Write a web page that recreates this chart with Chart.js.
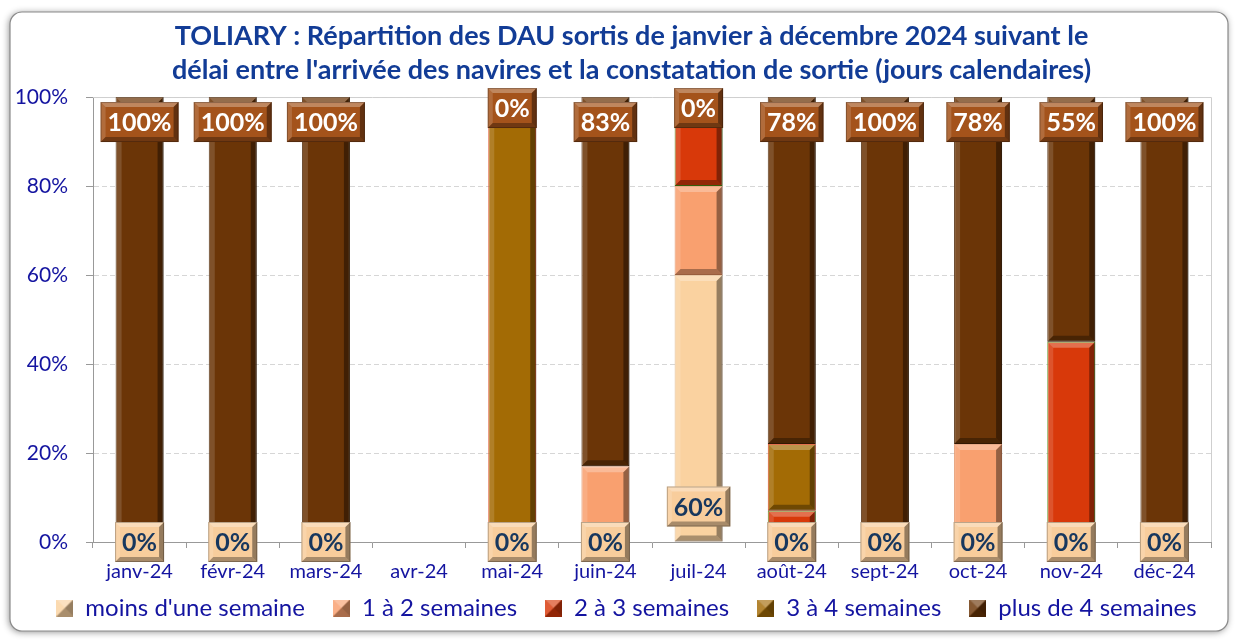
<!DOCTYPE html>
<html>
<head>
<meta charset="utf-8">
<script src="https://cdn.jsdelivr.net/npm/chart.js@4.4.1/dist/chart.umd.min.js"></script>
<style>
  html, body { margin: 0; padding: 0; background: #fff; }
</style>
</head>
<body>
<canvas id="chart" width="1238" height="641"></canvas>
<script>
// categories
const months = ['janv-24', 'févr-24', 'mars-24', 'avr-24', 'mai-24', 'juin-24',
                'juil-24', 'août-24', 'sept-24', 'oct-24', 'nov-24', 'déc-24'];

// series (percent of DAU), avr-24 has no data
const moinsUneSemaine  = [0, 0, 0, null, 0,   0, 60,  0,   0,  0,  0,   0];
const unADeuxSemaines  = [0, 0, 0, null, 0,  17, 20,  0,   0, 22,  0,   0];
const deuxATrois       = [0, 0, 0, null, 0,   0, 20,  7,   0,  0, 45,   0];
const troisAQuatre     = [0, 0, 0, null, 100, 0,  0, 15,   0,  0,  0,   0];
const plusDeQuatre     = [100, 100, 100, null, 0, 83, 0, 78, 100, 78, 55, 100];

const yTicks = [0, 20, 40, 60, 80, 100];

const seriesNames = ["moins d'une semaine", '1 à 2 semaines', '2 à 3 semaines',
                     '3 à 4 semaines', 'plus de 4 semaines'];
const seriesColors = ['#FAD2A0', '#F9A06F', '#D8390A', '#A36B05', '#6B3507'];
const seriesBorders = ['#E0B585', '#E08A5A', '#4F8A10', '#D8390A', '#4A2404'];

const FONT = 'Lato, "Open Sans", sans-serif';

function bevel(ctx, x0, y0, x1, y1, b, light, dark) {
    const w = x1 - x0, h = y1 - y0;
    b = Math.min(b, w / 2, h / 2);
    if (b <= 0) return;
    ctx.save();
    ctx.fillStyle = 'rgba(255,255,255,' + light + ')';
    ctx.beginPath();
    ctx.moveTo(x0, y0); ctx.lineTo(x1, y0); ctx.lineTo(x1 - b, y0 + b); ctx.lineTo(x0 + b, y0 + b);
    ctx.closePath(); ctx.fill();
    ctx.fillStyle = 'rgba(255,255,255,' + (light * 0.5) + ')';
    ctx.beginPath();
    ctx.moveTo(x0, y0); ctx.lineTo(x0 + b, y0 + b); ctx.lineTo(x0 + b, y1 - b); ctx.lineTo(x0, y1);
    ctx.closePath(); ctx.fill();
    ctx.fillStyle = 'rgba(0,0,0,' + dark + ')';
    ctx.beginPath();
    ctx.moveTo(x1, y0); ctx.lineTo(x1 - b, y0 + b); ctx.lineTo(x1 - b, y1 - b); ctx.lineTo(x1, y1);
    ctx.closePath(); ctx.fill();
    ctx.fillStyle = 'rgba(0,0,0,' + (dark * 0.8) + ')';
    ctx.beginPath();
    ctx.moveTo(x0, y1); ctx.lineTo(x0 + b, y1 - b); ctx.lineTo(x1 - b, y1 - b); ctx.lineTo(x1, y1);
    ctx.closePath(); ctx.fill();
    ctx.restore();
}

// small pyramid squares for the legend
function legendSwatch(color) {
    const c = document.createElement('canvas');
    c.width = 17; c.height = 17;
    const g = c.getContext('2d');
    g.fillStyle = color;
    g.fillRect(0, 0, 17, 17);
    bevel(g, 0, 0, 17, 17, 8.5, 0.35, 0.4);
    return c;
}
const swatches = seriesColors.map(legendSwatch);

const framePlugin = {
    id: 'frame',
    afterLayout(chart) {
        // title and legend sit a bit right of the canvas centre in the original
        const t = chart.titleBlock;
        if (t) { t.left += 21; t.right += 21; }
        const l = chart.legend;
        if (l) { l.left += 16; l.right += 16; l.top -= 16; l.bottom -= 16; }
    },
    beforeDraw(chart) {
        const ctx = chart.ctx;
        ctx.save();
        ctx.fillStyle = '#fff';
        ctx.fillRect(0, 0, chart.width, chart.height);
        ctx.shadowColor = 'rgba(0,0,0,0.45)';
        ctx.shadowBlur = 7;
        ctx.shadowOffsetX = -1;
        ctx.shadowOffsetY = 1;
        ctx.beginPath();
        ctx.roundRect(10, 12, 1218, 619, 12);
        ctx.fill();
        ctx.shadowColor = 'transparent';
        ctx.strokeStyle = '#8a8a8a';
        ctx.lineWidth = 1.2;
        ctx.stroke();
        ctx.restore();
    },
    beforeDatasetsDraw(chart) {
        const {ctx, chartArea: a} = chart;
        ctx.save();
        ctx.strokeStyle = '#cfcfcf';
        ctx.lineWidth = 1;
        ctx.beginPath();
        ctx.moveTo(a.left, a.top + 0.5);
        ctx.lineTo(a.right + 0.5, a.top + 0.5);
        ctx.lineTo(a.right + 0.5, a.bottom);
        ctx.stroke();
        ctx.restore();
    }
};

const barLabelPlugin = {
    id: 'barLabels',
    afterDatasetsDraw(chart) {
        const ctx = chart.ctx;
        // bevel on every segment
        chart.data.datasets.forEach((ds, i) => {
            chart.getDatasetMeta(i).data.forEach((el, j) => {
                if (ds.data[j] == null || !ds.data[j]) return;
                const p = el.getProps(['x', 'y', 'base', 'width'], true);
                bevel(ctx, p.x - p.width / 2, p.y, p.x + p.width / 2, p.base, 6, 0.28, 0.4);
            });
        });
        // value boxes: first series at the base, last series at the top
        ctx.save();
        ctx.font = 'bold 25px ' + FONT;
        ctx.textAlign = 'center';
        ctx.textBaseline = 'middle';
        const drawBox = (cx, cy, text, fill, color) => {
            const w = Math.max(ctx.measureText(text).width + 14, 48), h = 40;
            const x0 = cx - w / 2, y0 = cy - h / 2;
            ctx.fillStyle = fill;
            ctx.fillRect(x0, y0, w, h);
            bevel(ctx, x0, y0, x0 + w, y0 + h, 5, 0.3, 0.4);
            ctx.strokeStyle = 'rgba(0,0,0,0.25)';
            ctx.lineWidth = 1;
            ctx.strokeRect(x0 + 0.5, y0 + 0.5, w - 1, h - 1);
            ctx.fillStyle = color;
            ctx.fillText(text, cx, cy + 1);
        };
        const last = chart.data.datasets.length - 1;
        chart.getDatasetMeta(last).data.forEach((el, j) => {
            const v = plusDeQuatre[j];
            if (v == null) return;
            const p = el.getProps(['x', 'y', 'base'], true);
            const cy = (p.base - p.y) > 40 ? p.y + 25 : p.y + 11;
            drawBox(p.x, cy, v + '%', '#A4531B', '#ffffff');
        });
        chart.getDatasetMeta(0).data.forEach((el, j) => {
            const v = moinsUneSemaine[j];
            if (v == null) return;
            const p = el.getProps(['x', 'y', 'base'], true);
            const cy = (p.base - p.y) > 40 ? p.base - 35 : p.base;
            drawBox(p.x, cy, v + '%', '#F8CD9C', '#17375E');
        });
        ctx.restore();
    }
};

const seriesData = [moinsUneSemaine, unADeuxSemaines, deuxATrois, troisAQuatre, plusDeQuatre];

new Chart(document.getElementById('chart'), {
    type: 'bar',
    data: {
        labels: months,
        datasets: seriesData.map((d, i) => ({
            label: seriesNames[i],
            data: d,
            backgroundColor: seriesColors[i],
            borderColor: seriesBorders[i],
            borderWidth: c => (c.raw ? 1 : 0),
            borderSkipped: false,
            categoryPercentage: 1,
            barPercentage: 0.515
        }))
    },
    options: {
        responsive: false,
        animation: false,
        layout: { padding: { top: 8, left: 10, right: 27, bottom: -5 } },
        scales: {
            x: {
                stacked: true,
                offset: true,
                afterFit: s => { s.height = 42; },
                grid: { display: true, drawOnChartArea: false, offset: true, tickLength: 6, tickColor: '#999' },
                border: { color: '#999' },
                ticks: { color: '#1414A0', font: { family: FONT, size: 20 }, padding: 12 }
            },
            y: {
                stacked: true,
                min: 0,
                max: 100,
                afterFit: s => { s.width = 83; },
                afterBuildTicks: s => { s.ticks = yTicks.map(v => ({ value: v })); },
                grid: { color: '#d6d6d6', tickLength: 7, tickColor: '#999' },
                border: { color: '#999', dash: [5, 3] },
                ticks: {
                    color: '#1414A0',
                    font: { family: FONT, size: 21 },
                    padding: 18,
                    callback: v => v + '%'
                }
            }
        },
        plugins: {
            title: {
                display: true,
                text: ["TOLIARY : Répartition des DAU sortis de janvier à décembre 2024 suivant le",
                       "délai entre l'arrivée des navires et la constatation de sortie (jours calendaires)"],
                color: '#123C96',
                font: { family: FONT, size: 27, weight: 'bold', lineHeight: 1.26 },
                padding: { top: 11, bottom: 10 }
            },
            legend: {
                position: 'bottom',
                labels: {
                    color: '#1414A0',
                    font: { family: FONT, size: 24 },
                    usePointStyle: true,
                    pointStyleWidth: 17,
                    boxHeight: 17,
                    padding: 28,
                    generateLabels: chart => {
                        const items = Chart.defaults.plugins.legend.labels.generateLabels(chart);
                        items.forEach((it, i) => { it.pointStyle = swatches[i]; });
                        return items;
                    }
                }
            },
            tooltip: { enabled: false }
        }
    },
    plugins: [framePlugin, barLabelPlugin]
});
</script>
</body>
</html>
